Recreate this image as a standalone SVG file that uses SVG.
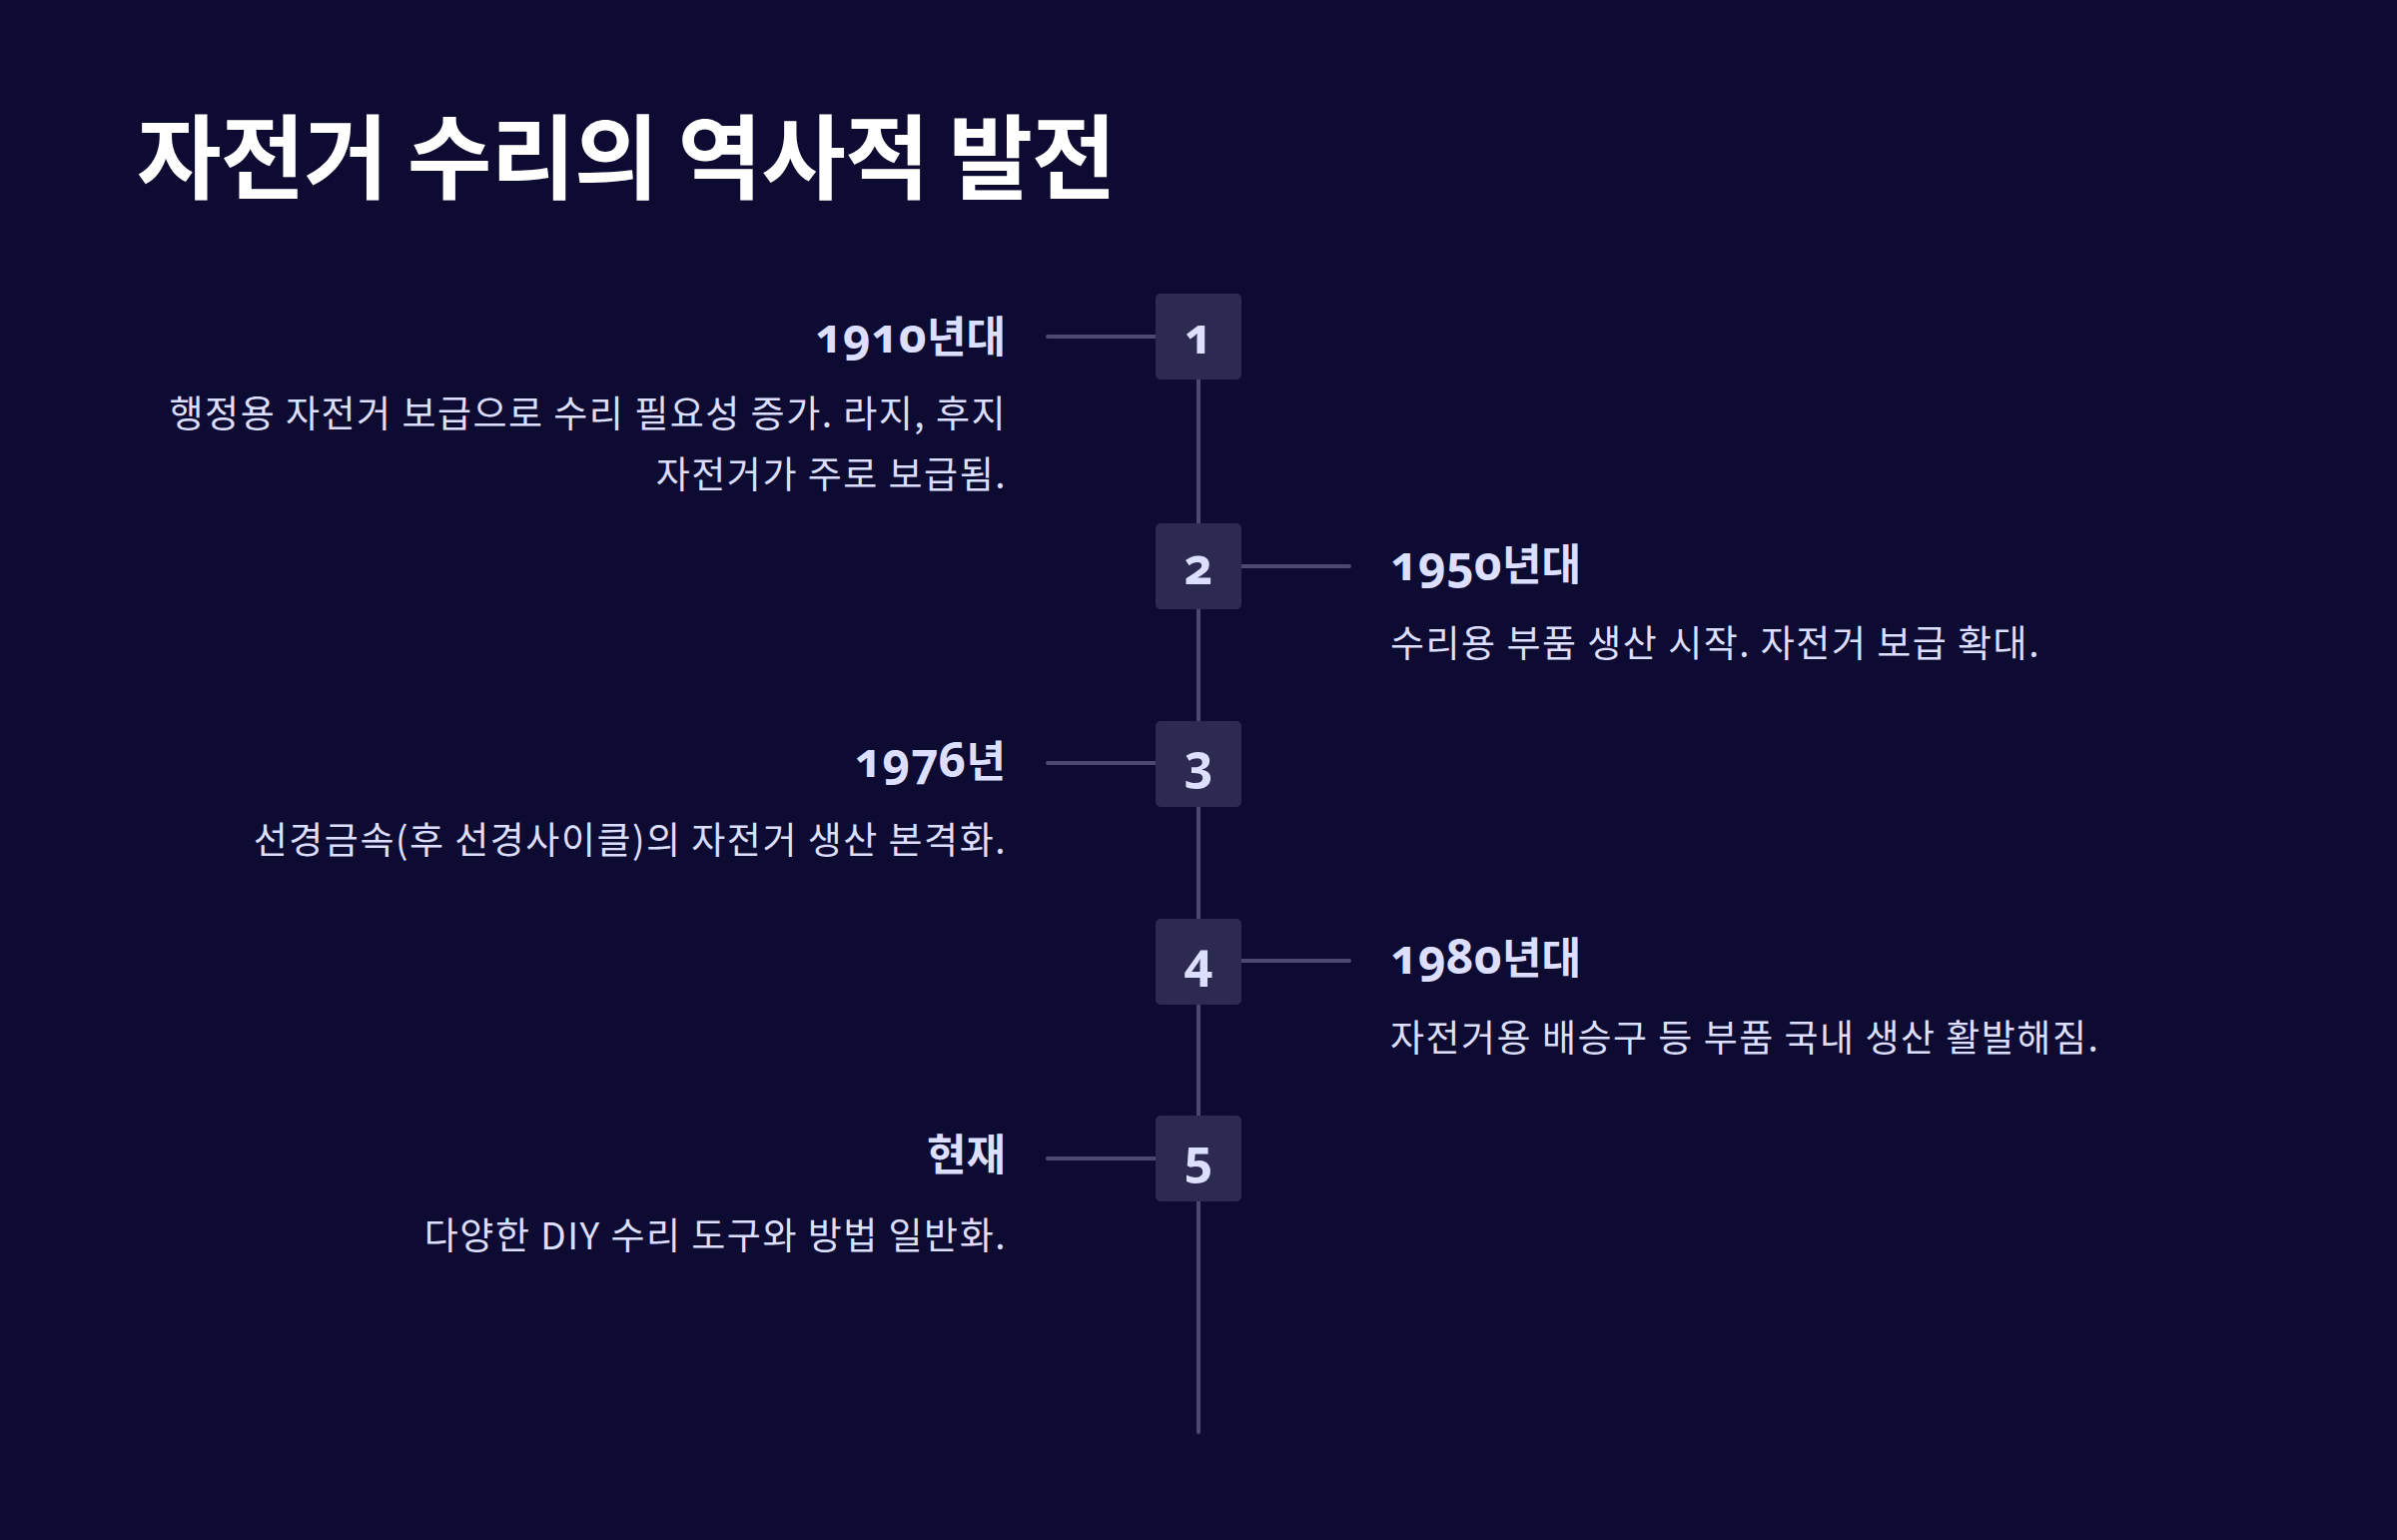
<svg xmlns="http://www.w3.org/2000/svg" width="2400" height="1542" viewBox="0 0 2400 1542">
<style>
.title{font-family:"Noto Sans CJK KR","Noto Sans",sans-serif;font-weight:700;font-size:92px;fill:#ffffff;letter-spacing:-1px}
.year{font-family:"Noto Sans","Noto Sans CJK KR",sans-serif;font-weight:700;font-size:43px;fill:#dcdfff}
.num{font-size:48px;font-feature-settings:"onum";font-variant-numeric:oldstyle-nums}
.desc{font-family:"Noto Sans CJK KR","Noto Sans",sans-serif;font-weight:400;font-size:37px;fill:#dcdfff;letter-spacing:1.5px}
.box{fill:#2c2a50}
.bnum{font-family:"Noto Sans",sans-serif;font-weight:700;font-size:50px;fill:#dcdfff;text-anchor:middle;font-feature-settings:"onum";font-variant-numeric:oldstyle-nums}
.conn{stroke:#4b4972;stroke-width:4;stroke-linecap:round;fill:none}
</style>
<rect width="2400" height="1542" fill="#0d0b31"/>
<text class="title" x="137" y="192">자전거 수리의 역사적 발전</text>
<g id="connectors">
<line class="conn" x1="1200" y1="337" x2="1200" y2="1434"/>
<line class="conn" x1="1049" y1="337" x2="1157" y2="337"/>
<line class="conn" x1="1243" y1="567" x2="1351" y2="567"/>
<line class="conn" x1="1049" y1="764" x2="1157" y2="764"/>
<line class="conn" x1="1243" y1="962" x2="1351" y2="962"/>
<line class="conn" x1="1049" y1="1160" x2="1157" y2="1160"/>
</g>
<g id="node1">
<rect class="box" x="1157" y="294" width="86" height="86" rx="5"/>
<text class="bnum" x="1200" y="354">1</text>
<text class="year" x="1007" y="353" text-anchor="end"><tspan class="num">1910</tspan>년대</text>
<text class="desc" x="1008" y="428" text-anchor="end">행정용 자전거 보급으로 수리 필요성 증가. 라지, 후지</text>
<text class="desc" x="1008" y="489" text-anchor="end">자전거가 주로 보급됨.</text>
</g>
<g id="node2">
<rect class="box" x="1157" y="524" width="86" height="86" rx="5"/>
<text class="bnum" x="1200" y="585">2</text>
<text class="year" x="1392" y="581"><tspan class="num">1950</tspan>년대</text>
<text class="desc" x="1392" y="658">수리용 부품 생산 시작. 자전거 보급 확대.</text>
</g>
<g id="node3">
<rect class="box" x="1157" y="722" width="86" height="86" rx="5"/>
<text class="bnum" x="1200" y="782">3</text>
<text class="year" x="1007" y="778" text-anchor="end"><tspan class="num">1976</tspan>년</text>
<text class="desc" x="1008" y="855" text-anchor="end">선경금속(후 선경사이클)의 자전거 생산 본격화.</text>
</g>
<g id="node4">
<rect class="box" x="1157" y="920" width="86" height="86" rx="5"/>
<text class="bnum" x="1200" y="980">4</text>
<text class="year" x="1392" y="975"><tspan class="num">1980</tspan>년대</text>
<text class="desc" x="1392" y="1053">자전거용 배승구 등 부품 국내 생산 활발해짐.</text>
</g>
<g id="node5">
<rect class="box" x="1157" y="1117" width="86" height="86" rx="5"/>
<text class="bnum" x="1200" y="1177">5</text>
<text class="year" x="1007" y="1172" text-anchor="end">현재</text>
<text class="desc" x="1008" y="1251" text-anchor="end">다양한 DIY 수리 도구와 방법 일반화.</text>
</g>
</svg>
